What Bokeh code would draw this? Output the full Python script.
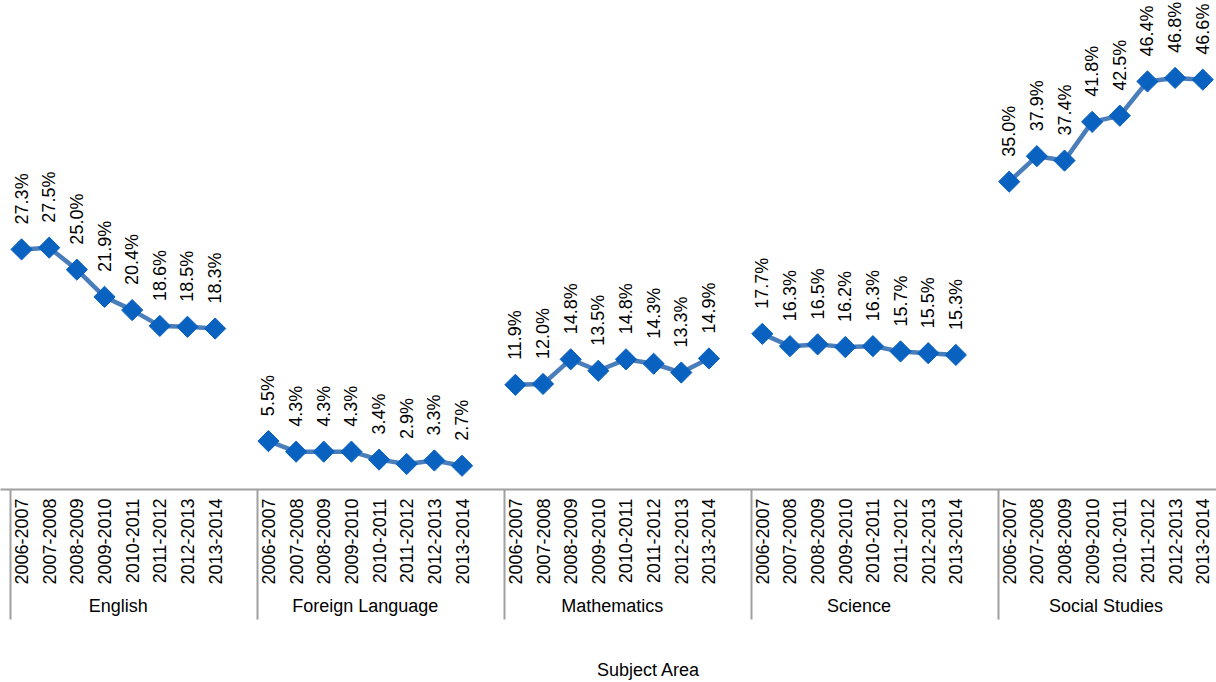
import math
from bokeh.plotting import figure
from bokeh.models import ColumnDataSource, LinearAxis, FixedTicker, Range1d
from bokeh.embed import file_html
from bokeh.resources import INLINE
from bokeh.core.properties import value

subjects = ["English", "Foreign Language", "Mathematics", "Science", "Social Studies"]
years = ["2006-2007", "2007-2008", "2008-2009", "2009-2010",
         "2010-2011", "2011-2012", "2012-2013", "2013-2014"]
english = [27.3, 27.5, 25.0, 21.9, 20.4, 18.6, 18.5, 18.3]
foreign_language = [5.5, 4.3, 4.3, 4.3, 3.4, 2.9, 3.3, 2.7]
mathematics = [11.9, 12.0, 14.8, 13.5, 14.8, 14.3, 13.3, 14.9]
science = [17.7, 16.3, 16.5, 16.2, 16.3, 15.7, 15.5, 15.3]
social_studies = [35.0, 37.9, 37.4, 41.8, 42.5, 46.4, 46.8, 46.6]
series = [english, foreign_language, mathematics, science, social_studies]
axis_title = "Subject Area"

GROUP_W = 8.93      # group pitch in category-slot units
FIRST = 0.4         # offset of first point from group divider

FONT = "Liberation Sans"
LINE_COLOR = "#4a7ebb"
MARK_COLOR = "#0a62c0"
GREY = "#a0a0a0"

W, H = 1216, 682
PX_PER_UNIT = 27.65
x_start = -10 / PX_PER_UNIT
x_end = x_start + W / PX_PER_UNIT
title_x = x_start + 648 / PX_PER_UNIT   # horizontal centre of the axis title

p = figure(width=W, height=H, output_backend="svg", toolbar_location=None,
           x_range=Range1d(x_start, x_end), y_range=Range1d(0, 55.6),
           x_axis_location=None, y_axis_location=None,
           min_border_left=0, min_border_right=0, min_border_top=0, min_border_bottom=0)
p.grid.visible = False
p.outline_line_color = None
p.background_fill_color = "white"
p.border_fill_color = "white"

tick_pos = []
tick_lab = {}
dividers = []
group_centers = []
group_lab = {}
for g, (subj, vals) in enumerate(zip(subjects, series)):
    base = g * GROUP_W
    dividers.append(base)
    xs = [base + FIRST + i for i in range(len(years))]
    for x, yr in zip(xs, years):
        tick_pos.append(x)
        tick_lab[x] = yr
    c = (xs[0] + xs[-1]) / 2
    group_centers.append(c)
    group_lab[c] = subj
    src = ColumnDataSource(dict(x=xs, y=vals, lab=[f"{v:.1f}%" for v in vals]))
    p.line("x", "y", source=src, line_color=LINE_COLOR, line_width=4.5)
    p.scatter("x", "y", source=src, marker="square", size=15, angle=math.pi / 4,
              fill_color=MARK_COLOR, line_color=MARK_COLOR)
    p.text("x", "y", text="lab", source=src, angle=math.pi / 2,
           text_align="left", text_baseline="middle", y_offset=-25,
           text_font=value(FONT), text_font_size="18px", text_color="black")

DIV_LEN = 130
ax1 = LinearAxis(ticker=FixedTicker(ticks=tick_pos, minor_ticks=dividers),
                 major_label_overrides={float(k): v for k, v in tick_lab.items()},
                 major_label_orientation=math.pi / 2,
                 major_label_standoff=9 - DIV_LEN,
                 major_label_text_font=FONT, major_label_text_font_size="18px",
                 major_label_text_color="black",
                 major_tick_out=0, major_tick_in=0,
                 minor_tick_out=DIV_LEN, minor_tick_in=0,
                 minor_tick_line_color=GREY, minor_tick_line_width=2,
                 axis_line_color=GREY, axis_line_width=2)
ax2 = LinearAxis(ticker=FixedTicker(ticks=group_centers, minor_ticks=[]),
                 major_label_overrides={float(k): v for k, v in group_lab.items()},
                 major_label_standoff=8,
                 major_label_text_font=FONT, major_label_text_font_size="18px",
                 major_label_text_color="black",
                 major_tick_out=0, major_tick_in=0,
                 minor_tick_out=0, minor_tick_in=0,
                 axis_line_color=None)
ax3 = LinearAxis(ticker=FixedTicker(ticks=[title_x], minor_ticks=[]),
                 major_label_overrides={float(title_x): axis_title},
                 major_label_standoff=41,
                 major_label_text_font=FONT, major_label_text_font_size="18px",
                 major_label_text_color="black",
                 major_tick_out=0, major_tick_in=0,
                 minor_tick_out=0, minor_tick_in=0,
                 axis_line_color=None)
p.add_layout(ax1, "below")
p.add_layout(ax2, "below")
p.add_layout(ax3, "below")

open("out.html", "w").write(file_html(p, INLINE))
